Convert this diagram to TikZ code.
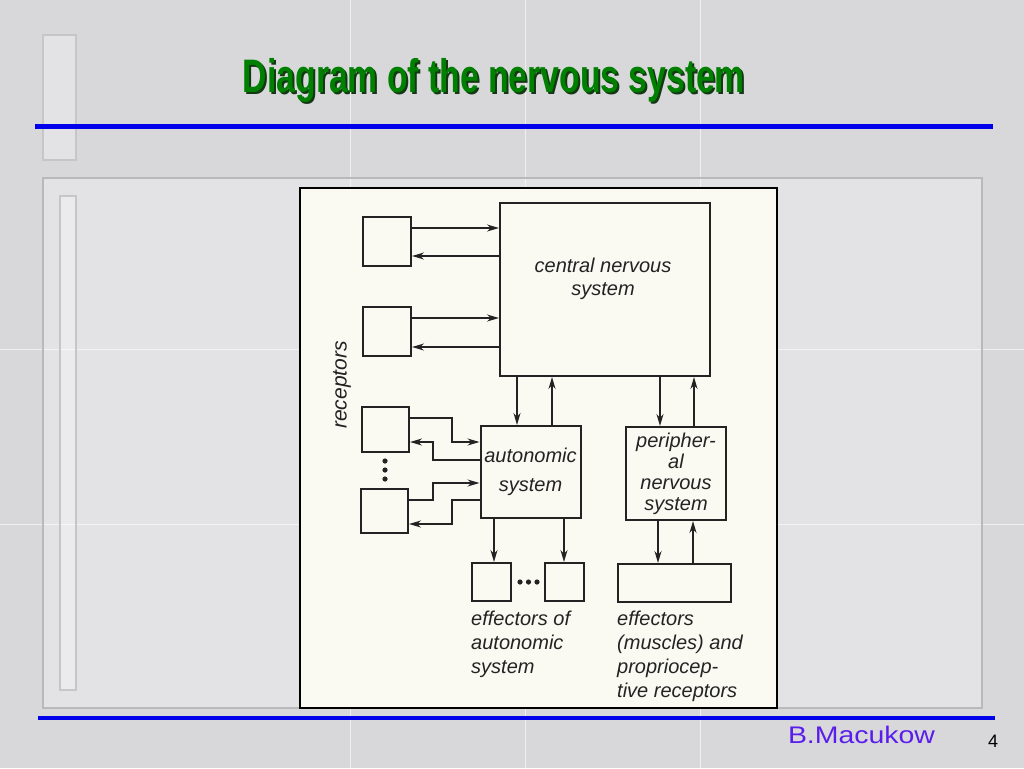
\documentclass[tikz,border=0pt]{standalone}
\usepackage{graphicx}
\usepackage{fontspec}
\setmainfont{Liberation Sans}
\usetikzlibrary{arrows.meta, calc, positioning}
\definecolor{marble}{RGB}{216,216,219}
\definecolor{panel}{RGB}{232,232,235}
\definecolor{paper}{RGB}{250,250,243}
\definecolor{ink}{RGB}{35,35,35}
\definecolor{titlegreen}{RGB}{0,128,0}
\definecolor{titleshade}{RGB}{20,55,20}
\definecolor{ruleblue}{RGB}{0,0,235}
\definecolor{authorblue}{RGB}{90,30,235}
\newcommand{\diagfont}{\fontsize{20}{24}\selectfont\itshape}
\newcommand{\titlefont}{\fontsize{47}{50}\selectfont\bfseries}

\begin{document}
\begin{tikzpicture}[x=1pt, y=-1pt, >=Stealth,
    box/.style={draw=ink, line width=2pt, fill=paper, inner sep=0pt, align=center, font=\diagfont, text=ink},
    arr/.style={draw=ink, line width=1.5pt, -{Stealth[length=12pt, width=7pt]}},
    lbl/.style={text=ink, inner sep=0pt, align=left, font=\diagfont}]

    % slide background
    \fill[marble] (0,0) rectangle (1024,768);
    \useasboundingbox (0,0) rectangle (1024,768);
    \fill[panel, fill opacity=0.7] (43,178) rectangle (982,708);
    \draw[white, opacity=0.6, line width=1pt] (350,0) -- (350,768) (525,0) -- (525,768) (700,0) -- (700,768);
    \draw[white, opacity=0.6, line width=1pt] (0,349) -- (1024,349) (0,524) -- (1024,524);
    \draw[gray!55, line width=1.2pt] (43,178) rectangle (982,708);
    \draw[gray!45, line width=1.5pt, fill=white, fill opacity=0.3] (43,35) rectangle (76,160);
    \draw[gray!45, line width=1.5pt, fill=white, fill opacity=0.3] (60,196) rectangle (76,690);
    \draw[ruleblue, line width=5pt] (35,126) -- (993,126);
    \draw[ruleblue, line width=4pt] (38,718) -- (995,718);

    \node[anchor=base, text=titleshade, font=\titlefont] (titleshadow) at (496,94) {\resizebox{502pt}{\height}{Diagram of the nervous system}};
    \node[anchor=base, text=titlegreen, font=\titlefont] (title) at (494,92) {\resizebox{502pt}{\height}{Diagram of the nervous system}};
    \node[anchor=base, text=authorblue, font=\fontsize{24}{28}\selectfont] (author) at (861.5,743) {\resizebox{147pt}{\height}{B.Macukow}};
    \node[anchor=base, font=\fontsize{18}{20}\selectfont] (page) at (993,747) {4};

    % scanned diagram
    \draw[black, line width=2pt, fill=paper] (300,188) rectangle (777,708);

    \node[box, minimum width=210pt, minimum height=173pt] (cns) at (605,289.5) {};
    \node[lbl, align=center, font=\fontsize{20}{23}\selectfont\itshape] (cnstext) at (603,279) {central nervous\\system};
    \node[box, minimum width=48pt, minimum height=49pt] (r1) at (387,241.5) {};
    \node[box, minimum width=48pt, minimum height=49pt] (r2) at (387,331.5) {};
    \node[box, minimum width=47pt, minimum height=45pt] (r3) at (385.5,429.5) {};
    \node[box, minimum width=47pt, minimum height=44pt] (r4) at (384.5,511) {};
    \node[lbl, rotate=90, font=\fontsize{21}{24}\selectfont\itshape] (receptors) at (342,385) {receptors};
    \node[box, minimum width=100pt, minimum height=92pt, font=\fontsize{20}{29}\selectfont\itshape] (aut) at (530.5,472) {autonomic\\system};
    \node[box, minimum width=100pt, minimum height=93pt, font=\fontsize{20}{21}\selectfont\itshape] (per) at (676,473.5) {peripher-\\al\\nervous\\system};
    \node[box, minimum width=39pt, minimum height=38pt] (e1) at (491.5,582) {};
    \node[box, minimum width=39pt, minimum height=38pt] (e2) at (564.5,582) {};
    \node[box, minimum width=113pt, minimum height=38pt] (emus) at (674.5,583) {};
    \node[lbl, anchor=north west] (effaut) at ([yshift=-9pt]e1.south west) {effectors of\\autonomic\\system};
    \node[lbl, anchor=north west] (effmus) at ([yshift=-8pt]emus.south west) {effectors\\(muscles) and\\propriocep-\\tive receptors};

    \fill[ink] (385,461) circle (2.6) (385,470) circle (2.6) (385,479) circle (2.6);
    \fill[ink] (520,582) circle (2.6) (528.5,582) circle (2.6) (537,582) circle (2.6);

    \draw[arr] (r1.east |- 0,228) -- (cns.west |- 0,228);
    \draw[arr] (cns.west |- 0,256) -- (r1.east |- 0,256);
    \draw[arr] (r2.east |- 0,318) -- (cns.west |- 0,318);
    \draw[arr] (cns.west |- 0,347) -- (r2.east |- 0,347);

    \draw[arr] (r3.east |- 0,418) -| (452,442) -- (aut.west |- 0,442);
    \draw[arr] (aut.west |- 0,460) -| (433,442) -- (r3.east |- 0,442);
    \draw[arr] (r4.east |- 0,500) -| (433,483) -- (aut.west |- 0,483);
    \draw[arr] (aut.west |- 0,500) -| (452,524) -- (r4.east |- 0,524);

    \draw[arr] (cns.south -| 517,0) -- (aut.north -| 517,0);
    \draw[arr] (aut.north -| 552,0) -- (cns.south -| 552,0);
    \draw[arr] (cns.south -| 660,0) -- (per.north -| 660,0);
    \draw[arr] (per.north -| 694,0) -- (cns.south -| 694,0);

    \draw[arr] (aut.south -| 494,0) -- (e1.north -| 494,0);
    \draw[arr] (aut.south -| 564,0) -- (e2.north -| 564,0);
    \draw[arr] (per.south -| 658,0) -- (emus.north -| 658,0);
    \draw[arr] (emus.north -| 693,0) -- (per.south -| 693,0);
\end{tikzpicture}
\end{document}
